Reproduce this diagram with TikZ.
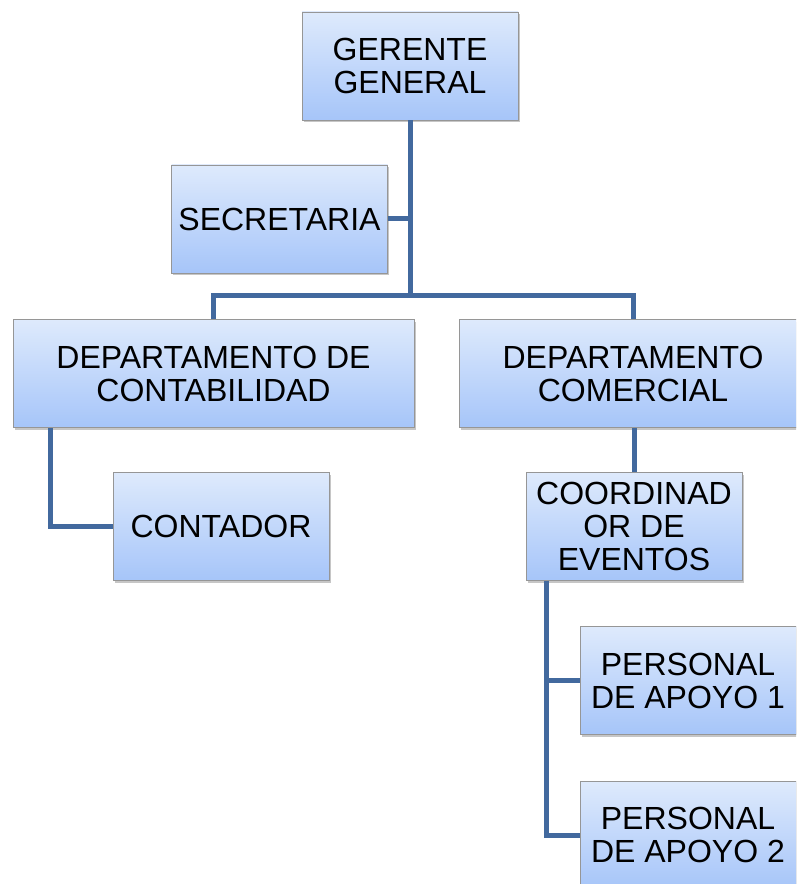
\documentclass[tikz,border=0pt]{standalone}
\usepackage{fontspec}
\setmainfont{Liberation Sans}
\usetikzlibrary{positioning,shadows}

\definecolor{cajaarriba}{RGB}{222,234,252}
\definecolor{cajaabajo}{RGB}{166,197,249}
\definecolor{borde}{RGB}{150,150,150}
\definecolor{linea}{RGB}{66,105,158}

\tikzset{
	caja/.style={draw=borde, line width=0.6pt, top color=cajaarriba, bottom color=cajaabajo,
		drop shadow={opacity=0.45, shadow xshift=1.2pt, shadow yshift=-1.6pt},
		align=center, inner sep=0pt, minimum width=162pt, minimum height=81pt,
		font=\fontsize{24}{24.75}\selectfont},
	rama/.style={draw=linea, line width=3.75pt},
}

\begin{document}
\begin{tikzpicture}[x=0.75pt, y=-0.75pt]
	\useasboundingbox (0,0) rectangle (796,884);
	\clip (0,0) rectangle (796,884);

	\node[caja] (gerente) at (410,66) {GERENTE\\GENERAL};
	\node[caja] (secretaria) at (279.5,219) {SECRETARIA};
	\node[caja, minimum width=300.75pt] (contab) at (213.5,373.5) {DEPARTAMENTO DE\\CONTABILIDAD};
	\node[caja, minimum width=261pt] (comercial) at (633,373.5) {DEPARTAMENTO\\COMERCIAL};
	\node[caja] (contador) at (221,526.5) {CONTADOR};
	\node[caja] (coordinador) at (634,526.5) {COORDINAD\\OR DE\\EVENTOS};
	\node[caja] (personal1) at (688,680.5) {PERSONAL\\DE APOYO 1};
	\node[caja, below=34.5pt of personal1] (personal2) {PERSONAL\\DE APOYO 2};

	\coordinate (barra) at (410,295);

	\draw[rama] (gerente.south) -- (barra);
	\draw[rama] (secretaria.east) -- (secretaria.east -| barra);
	\draw[rama] (contab.north) |- (barra) -| (comercial.north);
	\draw[rama] ([xshift=28.5pt]contab.south west) |- (contador.west);
	\draw[rama] (coordinador.north) -- (coordinador.north |- comercial.south);
	\draw[rama] ([xshift=15.75pt]coordinador.south west) |- (personal1.west);
	\draw[rama] ([xshift=15.75pt]coordinador.south west) |- (personal2.west);
\end{tikzpicture}
\end{document}
